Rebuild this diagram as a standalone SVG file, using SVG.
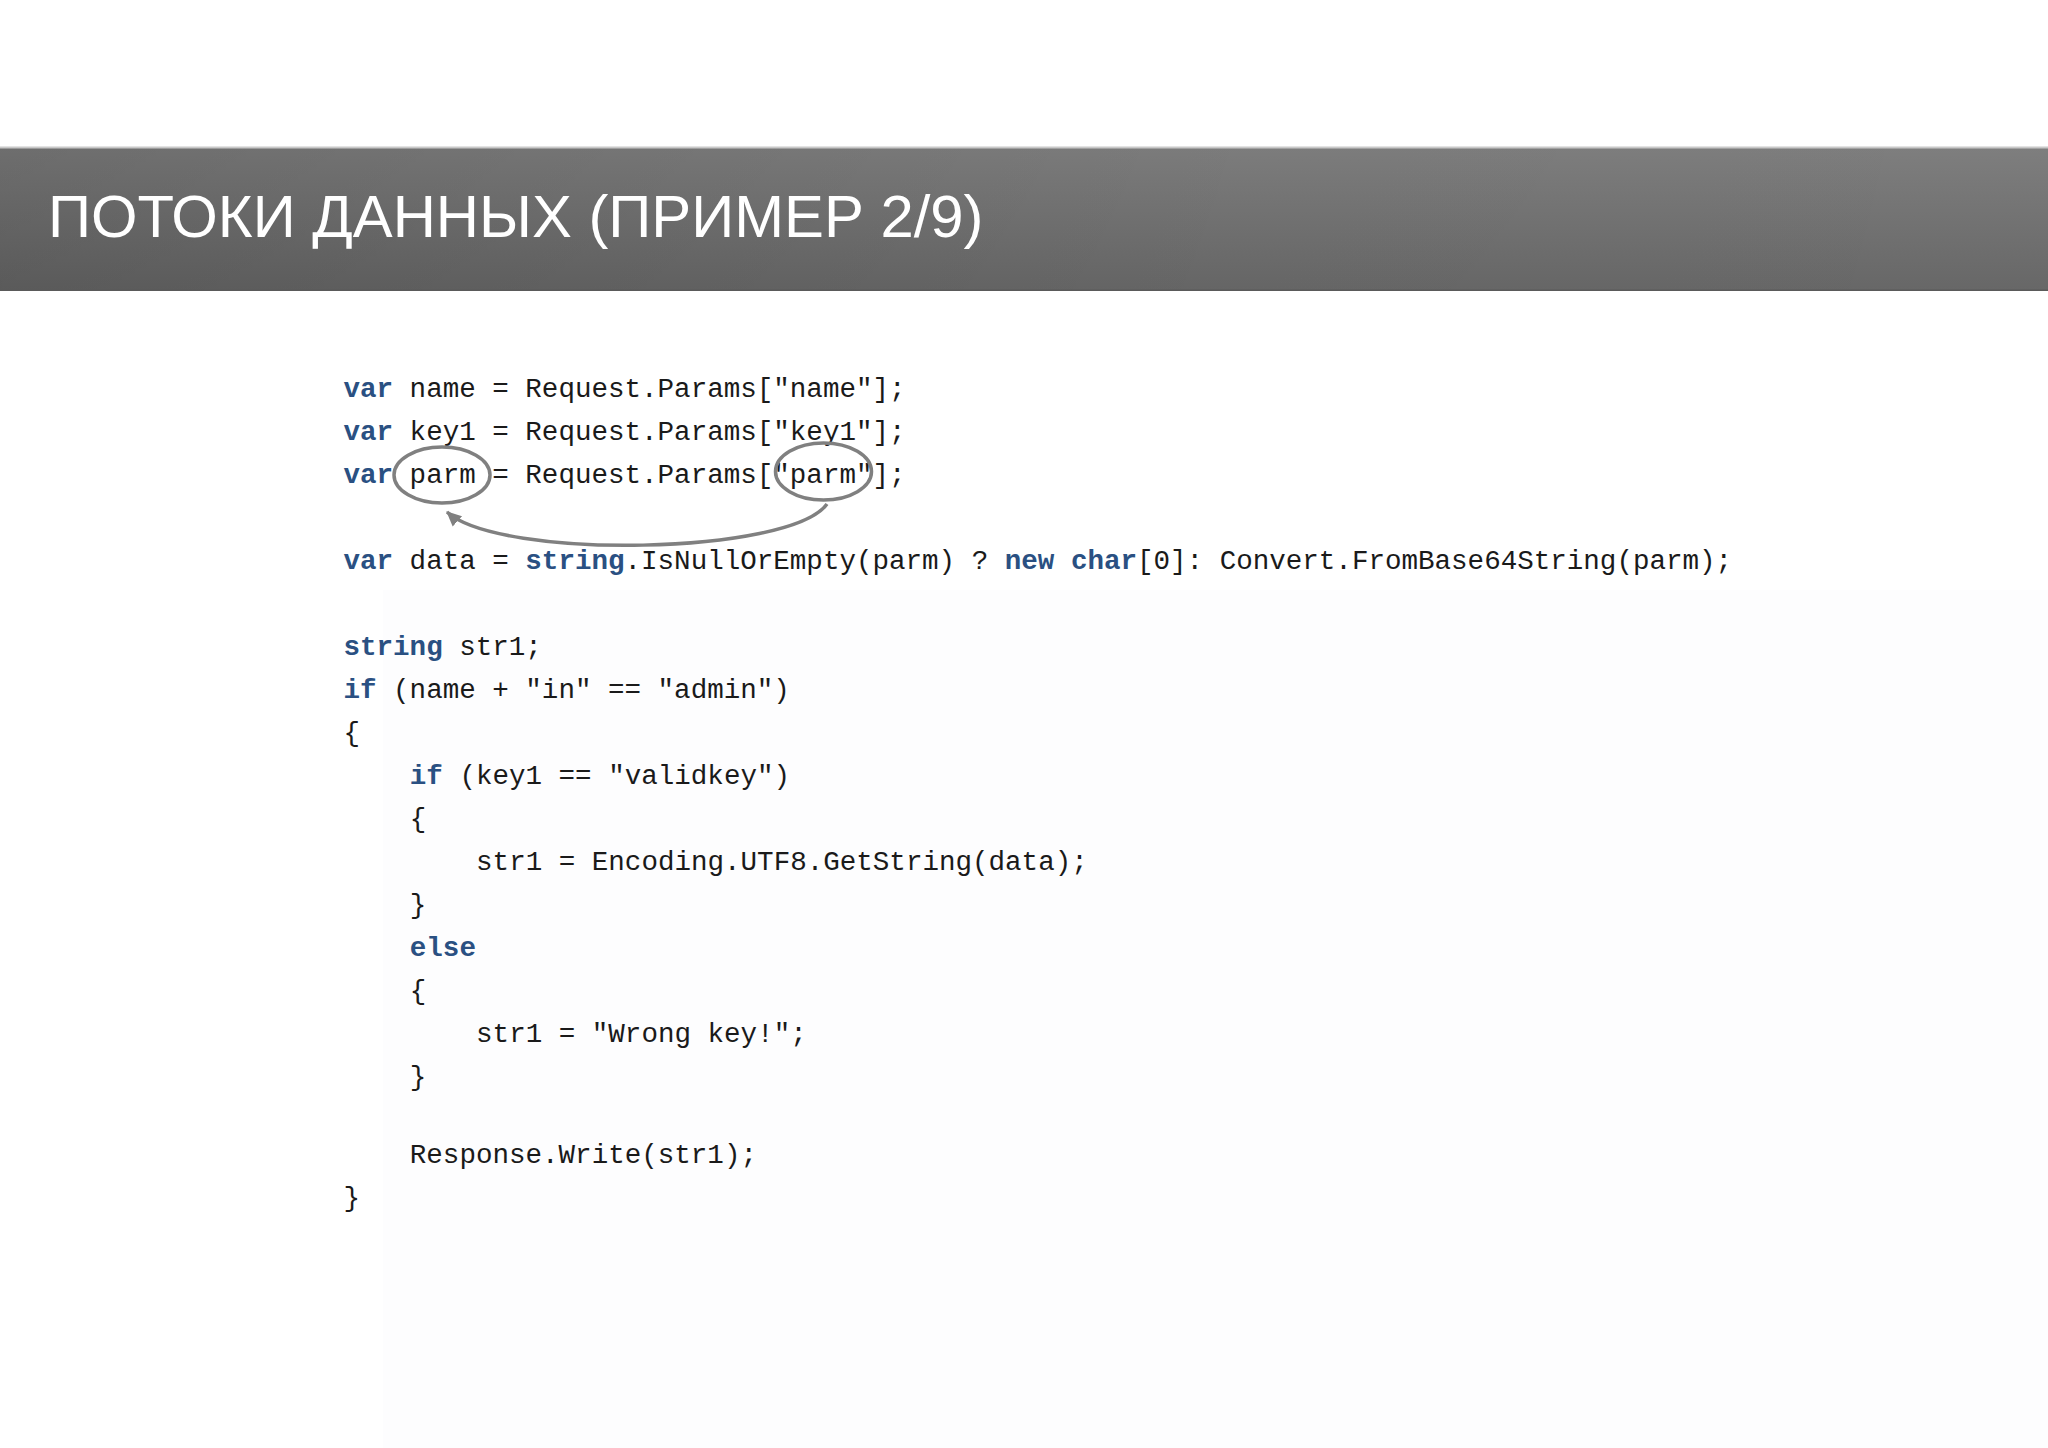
<svg xmlns="http://www.w3.org/2000/svg" width="2048" height="1448" viewBox="0 0 2048 1448">
<style>
.title{font-family:"Liberation Sans",Arial,sans-serif;font-size:59.8px;fill:#ffffff}
.code{font-family:"Liberation Mono","DejaVu Sans Mono",monospace;font-size:27.55px;fill:#1a1a1a}
.kw{fill:#2a5082;font-weight:bold}
.mark{fill:none;stroke:#808080;stroke-width:3.5}
</style>
<defs>
<linearGradient id="bandV" x1="0" y1="0" x2="0" y2="1">
<stop offset="0" stop-color="#7e7e7e"/>
<stop offset="1" stop-color="#676767"/>
</linearGradient>
<linearGradient id="bandH" x1="0" y1="0" x2="1" y2="0">
<stop offset="0" stop-color="#000" stop-opacity="0.13"/>
<stop offset="0.6" stop-color="#000" stop-opacity="0.02"/>
<stop offset="1" stop-color="#000" stop-opacity="0"/>
</linearGradient>
<marker id="ah" markerUnits="userSpaceOnUse" markerWidth="20" markerHeight="20" refX="14" refY="8" orient="auto">
<path d="M0,1 L15,8 L0,15 z" fill="#808080"/>
</marker>
</defs>
<rect width="2048" height="1448" fill="#ffffff"/>
<rect x="383" y="590" width="1665" height="858" fill="#fdfdfe"/>
<g id="header">
<rect x="0" y="148" width="2048" height="143" fill="url(#bandV)"/>
<rect x="0" y="148" width="2048" height="143" fill="url(#bandH)"/>
<rect x="0" y="146.5" width="2048" height="2" fill="#c8c8c8"/>
<rect x="0" y="289.5" width="2048" height="1.5" fill="#5a5a5a"/>
<text class="title" x="48" y="237">ПОТОКИ ДАННЫХ (ПРИМЕР 2/9)</text>
</g>
<g id="code">
<text class="code" xml:space="preserve" x="343.5" y="397"><tspan class="kw">var</tspan> name = Request.Params["name"];</text>
<text class="code" xml:space="preserve" x="343.5" y="440"><tspan class="kw">var</tspan> key1 = Request.Params["key1"];</text>
<text class="code" xml:space="preserve" x="343.5" y="483"><tspan class="kw">var</tspan> parm = Request.Params["parm"];</text>
<text class="code" xml:space="preserve" x="343.5" y="569"><tspan class="kw">var</tspan> data = <tspan class="kw">string</tspan>.IsNullOrEmpty(parm) ? <tspan class="kw">new</tspan> <tspan class="kw">char</tspan>[0]: Convert.FromBase64String(parm);</text>
<text class="code" xml:space="preserve" x="343.5" y="655"><tspan class="kw">string</tspan> str1;</text>
<text class="code" xml:space="preserve" x="343.5" y="698"><tspan class="kw">if</tspan> (name + "in" == "admin")</text>
<text class="code" x="343.5" y="741">{</text>
<text class="code" xml:space="preserve" x="409.8" y="784"><tspan class="kw">if</tspan> (key1 == "validkey")</text>
<text class="code" x="409.8" y="827">{</text>
<text class="code" xml:space="preserve" x="476.1" y="870">str1 = Encoding.UTF8.GetString(data);</text>
<text class="code" x="409.8" y="913">}</text>
<text class="code kw" x="409.8" y="956">else</text>
<text class="code" x="409.8" y="999">{</text>
<text class="code" xml:space="preserve" x="476.1" y="1042">str1 = "Wrong key!";</text>
<text class="code" x="409.8" y="1085">}</text>
<text class="code" x="409.8" y="1163">Response.Write(str1);</text>
<text class="code" x="343.5" y="1206">}</text>
</g>
<g id="highlights">
<ellipse id="mark-parm-var" class="mark" cx="442" cy="475" rx="48" ry="28"/>
<ellipse id="mark-parm-key" class="mark" cx="823.5" cy="471.5" rx="48" ry="28.5"/>
</g>
<g id="connectors">
<path class="mark" d="M827,504 C790,555 500,560 447,512" marker-end="url(#ah)"/>
</g>
</svg>
